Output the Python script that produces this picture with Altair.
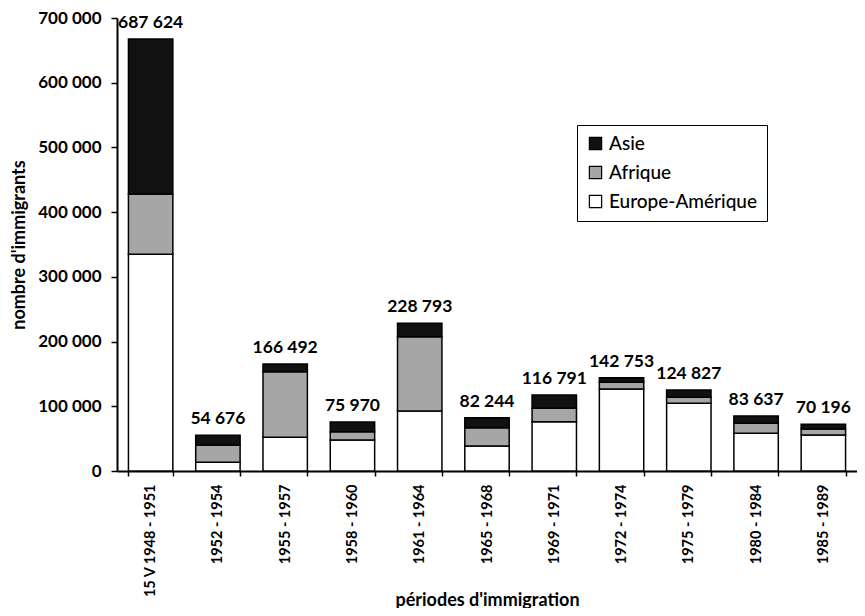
import altair as alt
import pandas as pd

periods = ["15 V 1948 - 1951", "1952 - 1954", "1955 - 1957", "1958 - 1960", "1961 - 1964",
           "1965 - 1968", "1969 - 1971", "1972 - 1974", "1975 - 1979", "1980 - 1984", "1985 - 1989"]
europe = [335000, 13400, 52000, 47900, 92700, 38600, 76200, 126700, 104500, 58200, 55600]
afrique = [93000, 26800, 101400, 12800, 114800, 28300, 20600, 10300, 9300, 15500, 9300]
asie = [239500, 14900, 11900, 15000, 20700, 15500, 20600, 7200, 11300, 11300, 7200]
total_labels = ["687 624", "54 676", "166 492", "75 970", "228 793", "82 244",
                "116 791", "142 753", "124 827", "83 637", "70 196"]
regions = ["Asie", "Afrique", "Europe-Amérique"]
y_ticks = [0, 100000, 200000, 300000, 400000, 500000, 600000, 700000]

rows = []
for i, p in enumerate(periods):
    rows.append({"periode": p, "region": "Europe-Amérique", "n": europe[i], "ord": 0})
    rows.append({"periode": p, "region": "Afrique", "n": afrique[i], "ord": 1})
    rows.append({"periode": p, "region": "Asie", "n": asie[i], "ord": 2})
df = pd.DataFrame(rows)
tot = pd.DataFrame({
    "periode": periods,
    "top": [e + a + s for e, a, s in zip(europe, afrique, asie)],
    "label": total_labels,
})

FONT = "Lato"
xenc = alt.X("periode:N", sort=periods, title="périodes d'immigration",
             scale=alt.Scale(paddingInner=0.34, paddingOuter=0.17),
             axis=alt.Axis(labelAngle=-90, labelAlign="right", labelBaseline="middle",
                           labelFontSize=14.5, labelFont=FONT, labelFontWeight="bold",
                           labelColor="black", labelPadding=8,
                           tickBand="extent", tickSize=5, tickColor="black", tickWidth=1.5,
                           domainColor="black", domainWidth=2,
                           titleFont=FONT, titleFontSize=18, titleFontWeight="bold",
                           titleColor="black", titleY=129, titleBaseline="middle"))

bars = alt.Chart(df).mark_bar(stroke="black", strokeWidth=1.5).encode(
    x=xenc,
    y=alt.Y("n:Q", stack="zero", title="nombre d'immigrants",
            scale=alt.Scale(domain=[0, 700000], nice=False),
            axis=alt.Axis(values=y_ticks, grid=False,
                          labelExpr="replace(format(datum.value, ','), ',', ' ')",
                          labelFontSize=17, labelFont=FONT, labelFontWeight="bold",
                          labelColor="black", labelPadding=10,
                          tickSize=6, tickColor="black", tickWidth=1.5,
                          domainColor="black", domainWidth=2,
                          titleFont=FONT, titleFontSize=18, titleFontWeight="bold",
                          titleColor="black", titleX=-98, titleBaseline="middle")),
    color=alt.Color("region:N",
                    scale=alt.Scale(domain=regions, range=["#111111", "#a6a6a6", "#ffffff"]),
                    legend=alt.Legend(title=None, orient="none", legendX=460, legendY=107,
                                      direction="vertical",
                                      strokeColor="black", fillColor="white",
                                      padding=9, rowPadding=9,
                                      symbolType="square", symbolSize=150,
                                      symbolStrokeColor="black", symbolStrokeWidth=1.2,
                                      labelFont=FONT, labelFontSize=19, labelColor="black",
                                      labelFontWeight=500, labelOffset=4)),
    order=alt.Order("ord:Q"),
)

labels = alt.Chart(tot).mark_text(baseline="middle", dy=-16, font=FONT, fontSize=17.5,
                                  fontWeight="bold", color="black").encode(
    x=alt.X("periode:N", sort=periods),
    y=alt.Y("top:Q"),
    text="label:N",
)

chart = alt.layer(bars, labels).properties(
    width=740, height=453,
    autosize=alt.AutoSizeParams(type="none"),
    padding={"left": 109, "top": 10, "right": 0, "bottom": 137},
).configure_view(stroke=None)

chart.save("out.html", embed_options={"renderer": "svg", "actions": False})
